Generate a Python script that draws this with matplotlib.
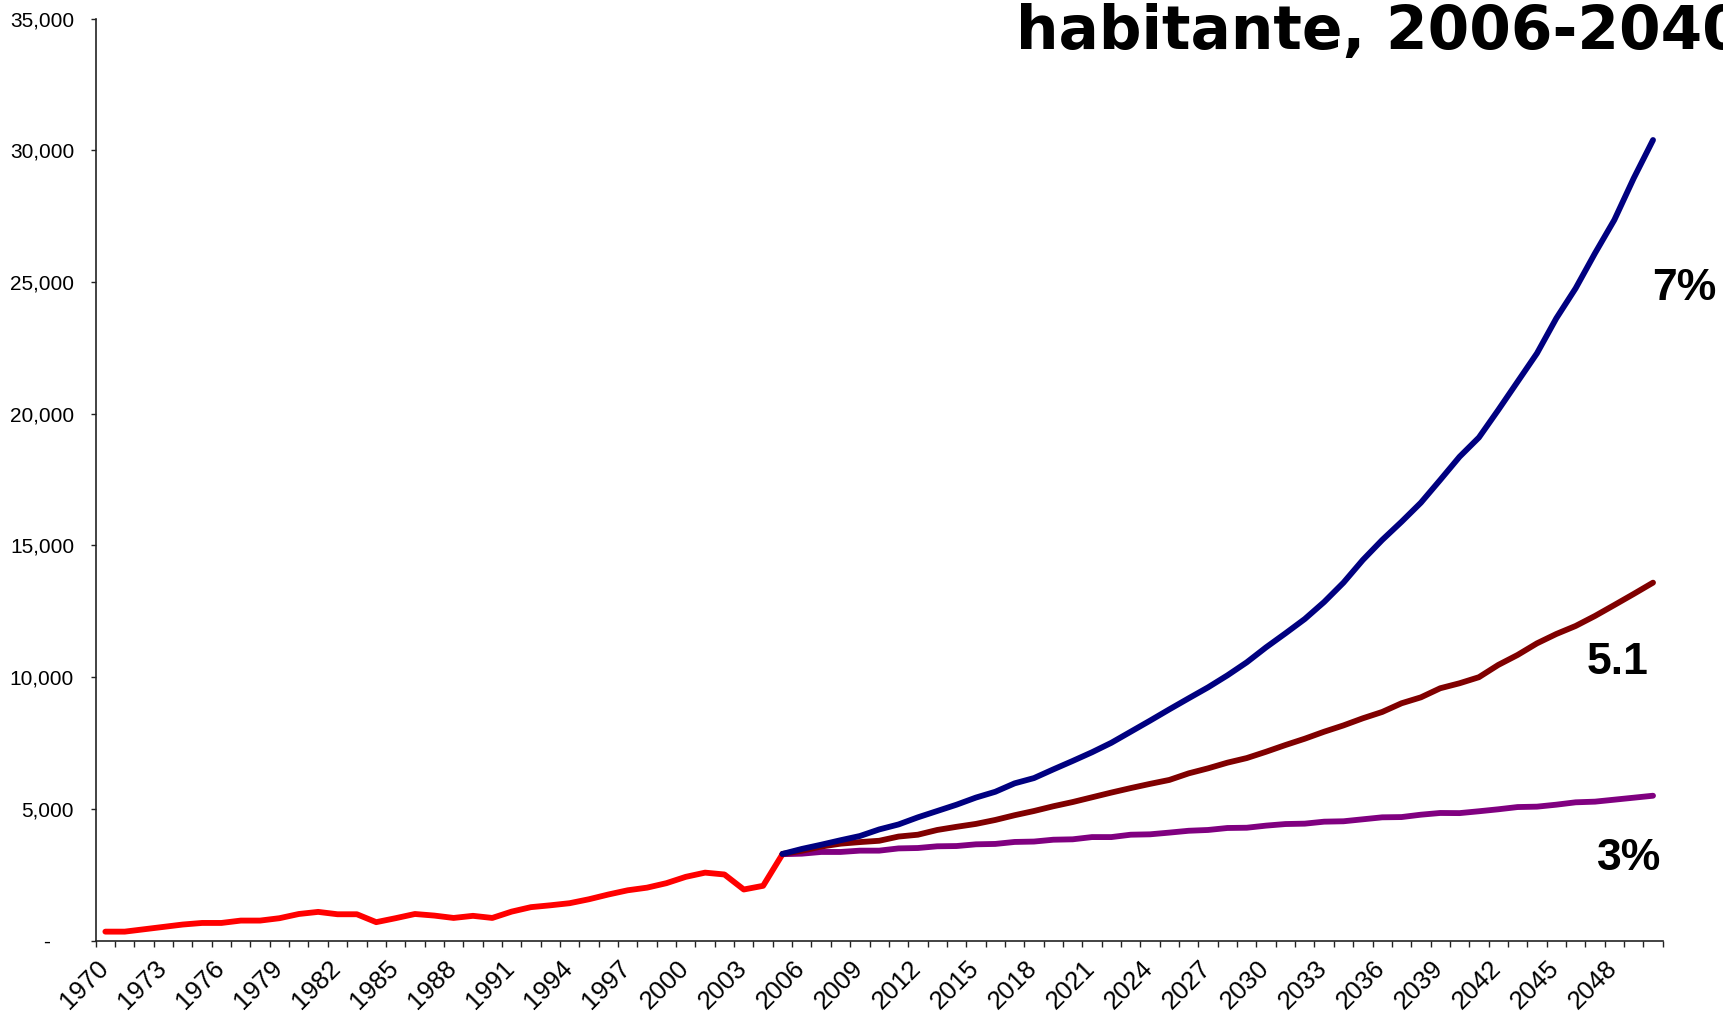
import matplotlib
matplotlib.use("Agg")
import matplotlib.pyplot as plt
import matplotlib.transforms as mtransforms
from matplotlib import font_manager
from matplotlib.ticker import FixedLocator, FuncFormatter

# historical GDP per capita, 1970-2005
hist_years = list(range(1970, 2006))
hist_values = [340, 340, 430, 520, 610, 670, 670, 760, 760, 850,
               1010, 1090, 1000, 1000, 700, 850, 1010, 950, 860, 940,
               860, 1100, 1270, 1340, 1420, 1570, 1750, 1910, 2010, 2180,
               2420, 2580, 2510, 1940, 2080, 3280]

# projections 2005-2050
proj_years = list(range(2005, 2051))
proj_7 = [3290, 3480, 3640, 3810, 3970, 4220, 4410, 4680, 4920, 5160,
          5430, 5650, 5970, 6170, 6500, 6820, 7150, 7510, 7930, 8350,
          8780, 9200, 9615, 10070, 10565, 11135, 11665, 12210, 12855, 13590,
          14450, 15210, 15900, 16625, 17490, 18370, 19100, 20145, 21220, 22295,
          23625, 24765, 26095, 27360, 28940, 30395]
proj_51 = [3290, 3410, 3570, 3680, 3740, 3790, 3950, 4020, 4200, 4320,
           4430, 4580, 4760, 4920, 5100, 5260, 5440, 5620, 5790, 5950,
           6100, 6350, 6540, 6755, 6930, 7170, 7425, 7665, 7930, 8170,
           8440, 8680, 9010, 9235, 9580, 9770, 10000, 10465, 10845, 11285,
           11640, 11945, 12325, 12740, 13160, 13590]
proj_3 = [3280, 3300, 3365, 3365, 3415, 3415, 3500, 3515, 3580, 3590,
          3655, 3670, 3745, 3760, 3830, 3845, 3930, 3930, 4020, 4035,
          4100, 4170, 4200, 4275, 4285, 4365, 4425, 4440, 4515, 4530,
          4605, 4680, 4690, 4780, 4845, 4840, 4910, 4985, 5070, 5085,
          5160, 5250, 5275, 5350, 5425, 5500]

label_years = list(range(1970, 2049, 3))
y_ticks = [0, 5000, 10000, 15000, 20000, 25000, 30000, 35000]


def has_font(name):
    try:
        font_manager.findfont(font_manager.FontProperties(family=name),
                              fallback_to_default=False)
        return True
    except ValueError:
        return False


# a narrow face if there is one, Liberation Sans otherwise
narrow = has_font('Liberation Sans Narrow')
tick_family = ['Liberation Sans Narrow' if narrow else 'Liberation Sans', 'DejaVu Sans']
ytick_size = 17 if narrow else 15
xtick_size = 20 if narrow else 18.5
big_size = 38 if narrow else 32

fig = plt.figure(figsize=(17.23, 10.21), dpi=100)
ax = fig.add_axes([0.05554, 0.07875, 0.90946, 0.90293])

lw = 4.2
ax.plot(hist_years, hist_values, color='#FF0000', lw=lw,
        solid_capstyle='round', solid_joinstyle='round', zorder=2)
ax.plot(proj_years, proj_3, color='#800080', lw=lw,
        solid_capstyle='round', solid_joinstyle='round', zorder=3)
ax.plot(proj_years, proj_51, color='#800000', lw=lw,
        solid_capstyle='round', solid_joinstyle='round', zorder=4)
ax.plot(proj_years, proj_7, color='#000080', lw=lw,
        solid_capstyle='round', solid_joinstyle='round', zorder=5)

ax.set_xlim(1969.5, 2050.5)
ax.set_ylim(0, 35000)

for s in ['top', 'right']:
    ax.spines[s].set_visible(False)
for s in ['left', 'bottom']:
    ax.spines[s].set_linewidth(1.2)
    ax.spines[s].set_color('#222222')

# category boundaries as tick marks, labels every 3 years
ax.xaxis.set_major_locator(FixedLocator([1969.5 + i for i in range(82)]))
ax.xaxis.set_major_formatter(FuncFormatter(lambda v, p: ''))
ax.xaxis.set_minor_locator(FixedLocator(label_years))
ax.set_xticklabels([str(y) for y in label_years], minor=True)
ax.tick_params(axis='x', which='major', direction='out', length=4.3,
               width=1.0, color='#222222')
ax.tick_params(axis='x', which='minor', length=0, pad=11)

offset = mtransforms.ScaledTranslation(-0.09, 0, fig.dpi_scale_trans)
for lbl in ax.get_xticklabels(minor=True):
    lbl.set_rotation(45)
    lbl.set_ha('right')
    lbl.set_va('top')
    lbl.set_rotation_mode('anchor')
    lbl.set_fontsize(xtick_size)
    lbl.set_family(tick_family)
    lbl.set_transform(lbl.get_transform() + offset)

ax.set_yticks(y_ticks)
ax.yaxis.set_major_formatter(
    FuncFormatter(lambda v, p: '-    ' if v == 0 else f'{int(v):,}'))
ax.tick_params(axis='y', direction='out', length=3.6, width=1.0,
               color='#222222', pad=12)
for lbl in ax.get_yticklabels():
    lbl.set_fontsize(ytick_size)
    lbl.set_family(tick_family)

# title (its first line lies above the picture)
fig.text(1016 / 1723, 1 - 49.5 / 1021, 'habitante, 2006-2040',
         fontsize=43, fontweight='bold', family='DejaVu Sans',
         ha='left', va='baseline')

# growth-rate labels
fig.text(1652 / 1723, 1 - 288 / 1021, '7%', fontsize=big_size, fontweight='bold',
         family=tick_family, ha='left', va='center')
fig.text(1587 / 1723, 1 - 663 / 1021, '5.1', fontsize=big_size, fontweight='bold',
         family=tick_family, ha='left', va='center')
fig.text(1597 / 1723, 1 - 858 / 1021, '3%', fontsize=big_size, fontweight='bold',
         family=tick_family, ha='left', va='center')

fig.savefig('out.png', dpi=100)
